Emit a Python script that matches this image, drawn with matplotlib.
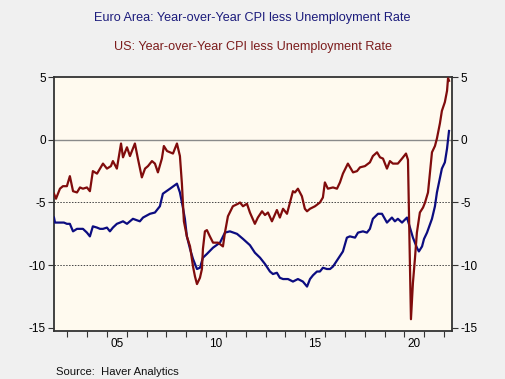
import matplotlib
matplotlib.use("Agg")
import matplotlib.pyplot as plt
from matplotlib.ticker import FixedLocator, NullFormatter, FixedFormatter

plt.rcParams["font.family"] = ["Liberation Sans", "DejaVu Sans"]

# US: year-over-year CPI less unemployment rate
us_dates = [
    2002.33, 2002.43, 2002.63, 2002.78, 2002.98, 2003.13, 2003.29, 2003.49,
    2003.64, 2003.79, 2003.99, 2004.14, 2004.29, 2004.50, 2004.65, 2004.80,
    2005.00, 2005.20, 2005.30, 2005.50, 2005.71, 2005.81, 2006.01, 2006.16,
    2006.41, 2006.56, 2006.76, 2006.92, 2007.07, 2007.27, 2007.42, 2007.57,
    2007.77, 2007.87, 2008.03, 2008.18, 2008.33, 2008.53, 2008.68, 2008.78,
    2008.88, 2008.93, 2009.03, 2009.19, 2009.34, 2009.44, 2009.54, 2009.69,
    2009.79, 2009.84, 2009.94, 2010.04, 2010.19, 2010.35, 2010.60, 2010.85,
    2010.95, 2011.10, 2011.35, 2011.61, 2011.71, 2011.86, 2012.06, 2012.21,
    2012.46, 2012.61, 2012.82, 2012.97, 2013.12, 2013.32, 2013.57, 2013.72,
    2013.88, 2014.08, 2014.23, 2014.38, 2014.48, 2014.63, 2014.83, 2014.98,
    2015.09, 2015.24, 2015.49, 2015.74, 2015.89, 2015.99, 2016.14, 2016.40,
    2016.60, 2016.75, 2016.90, 2017.15, 2017.41, 2017.61, 2017.76, 2018.01,
    2018.26, 2018.41, 2018.62, 2018.77, 2018.92, 2019.12, 2019.27, 2019.42,
    2019.67, 2019.88, 2020.08, 2020.18, 2020.33, 2020.43, 2020.53, 2020.63,
    2020.78, 2020.94, 2021.04, 2021.19, 2021.39, 2021.54, 2021.64, 2021.79,
    2021.89, 2022.04, 2022.15, 2022.20, 2022.25,
]
us_values = [
    -4.3, -4.7, -3.9, -3.7, -3.7, -2.9, -4.1, -4.2,
    -3.8, -3.9, -3.8, -4.1, -2.5, -2.7, -2.3, -1.9,
    -2.3, -2.1, -1.7, -2.3, -0.3, -1.4, -0.6, -1.3,
    -0.3, -1.5, -3.0, -2.3, -2.1, -1.7, -1.9, -2.6,
    -1.5, -0.5, -0.9, -1.0, -1.1, -0.3, -1.3, -3.5,
    -6.5, -6.9, -7.7, -8.5, -10.1, -10.9, -11.5, -11.0,
    -10.3, -8.7, -7.3, -7.2, -7.7, -8.2, -8.2, -8.5,
    -7.4, -6.1, -5.3, -5.1, -5.0, -5.3, -5.1, -5.8,
    -6.7, -6.2, -5.7, -6.0, -5.8, -6.5, -5.6, -6.2,
    -5.5, -5.9, -5.0, -4.1, -4.2, -3.9, -4.5, -5.5,
    -5.7, -5.5, -5.3, -5.0, -4.6, -3.4, -3.9, -3.8,
    -3.9, -3.4, -2.7, -1.9, -2.6, -2.5, -2.2, -2.1,
    -1.8, -1.3, -1.0, -1.4, -1.5, -2.3, -1.7, -1.9,
    -1.9, -1.5, -1.1, -1.6, -14.3, -11.4, -9.5, -7.4,
    -5.8, -5.4, -5.0, -4.2, -1.0, -0.5, 0.1, 1.3,
    2.3, 3.0, 3.9, 4.9, 4.7,
]

# Euro Area: year-over-year CPI less unemployment rate
ea_dates = [
    2002.33, 2002.38, 2002.63, 2002.83, 2002.98, 2003.13, 2003.29, 2003.49,
    2003.64, 2003.79, 2003.99, 2004.14, 2004.29, 2004.50, 2004.65, 2004.80,
    2005.00, 2005.15, 2005.30, 2005.50, 2005.66, 2005.81, 2006.01, 2006.31,
    2006.66, 2006.82, 2007.17, 2007.42, 2007.57, 2007.67, 2007.82, 2008.18,
    2008.53, 2008.68, 2008.83, 2008.93, 2009.03, 2009.19, 2009.34, 2009.54,
    2009.69, 2009.84, 2010.04, 2010.35, 2010.70, 2010.95, 2011.20, 2011.56,
    2011.86, 2012.21, 2012.46, 2012.72, 2012.97, 2013.22, 2013.37, 2013.57,
    2013.72, 2013.88, 2014.13, 2014.38, 2014.63, 2014.88, 2015.09, 2015.24,
    2015.39, 2015.59, 2015.74, 2015.89, 2016.09, 2016.25, 2016.40, 2016.65,
    2016.90, 2017.10, 2017.25, 2017.51, 2017.66, 2017.91, 2018.11, 2018.26,
    2018.41, 2018.67, 2018.87, 2019.12, 2019.37, 2019.52, 2019.67, 2019.88,
    2020.13, 2020.28, 2020.43, 2020.63, 2020.73, 2020.89, 2020.99, 2021.14,
    2021.39, 2021.54, 2021.64, 2021.89, 2022.04, 2022.15, 2022.25,
]
ea_values = [
    -6.2, -6.6, -6.6, -6.6, -6.7, -6.7, -7.3, -7.1,
    -7.1, -7.1, -7.4, -7.7, -6.9, -7.0, -7.1, -7.1,
    -7.0, -7.3, -7.0, -6.7, -6.6, -6.5, -6.7, -6.3,
    -6.5, -6.2, -5.9, -5.8, -5.5, -5.3, -4.3, -3.9,
    -3.5, -4.2, -5.4, -6.3, -7.7, -8.7, -9.5, -10.3,
    -10.2, -9.4, -9.1, -8.6, -8.2, -7.4, -7.3, -7.5,
    -7.9, -8.4, -9.0, -9.4, -9.9, -10.5, -10.7, -10.6,
    -11.0, -11.1, -11.1, -11.3, -11.1, -11.3, -11.7, -11.1,
    -10.8, -10.5, -10.5, -10.2, -10.3, -10.3, -10.1, -9.5,
    -8.9, -7.8, -7.7, -7.8, -7.4, -7.3, -7.4, -7.1,
    -6.3, -5.9, -5.9, -6.6, -6.2, -6.5, -6.3, -6.6,
    -6.2, -7.0, -7.8, -8.6, -8.9, -8.5, -7.9, -7.4,
    -6.3, -5.3, -4.2, -2.3, -1.8, -0.7, 0.7,
]

year_ticks = list(range(2003, 2023))
label_years = [2005.5, 2010.5, 2015.5, 2020.5]
label_text = ["05", "10", "15", "20"]
y_ticks = [5, 0, -5, -10, -15]

EA_COLOR = "#0c0c80"
US_COLOR = "#800c0c"

fig = plt.figure(figsize=(5.05, 3.79), dpi=100, facecolor="#f0f0f0")
ax = fig.add_axes([54 / 505, 1 - 331 / 379, 398 / 505, 254 / 379])
ax.set_facecolor("#fffaef")

ax.axhline(0, color="#8a8a8a", lw=1.0, zorder=1)
for level in (-5, -10):
    ax.axhline(level, color="#444444", lw=0.7, ls=(0, (1.5, 1.5)), zorder=1)

ax.plot(ea_dates, ea_values, color=EA_COLOR, lw=1.6, zorder=3)
ax.plot(us_dates, us_values, color=US_COLOR, lw=1.6, zorder=3)

ax.set_xlim(2002.33, 2022.4)
ax.set_ylim(-15.24, 5.0)

ax.xaxis.set_major_locator(FixedLocator(year_ticks))
ax.xaxis.set_major_formatter(NullFormatter())
ax.xaxis.set_minor_locator(FixedLocator(label_years))
ax.xaxis.set_minor_formatter(FixedFormatter(label_text))
ax.tick_params(axis="x", which="major", length=4, width=0.8, color="#333333",
               direction="out")
ax.tick_params(axis="x", which="minor", length=0, pad=5, labelsize=8.5)

ax.set_yticks(y_ticks)
ax.set_yticklabels([str(v) for v in y_ticks])
ax.tick_params(axis="y", which="major", length=4, width=0.8, color="#333333",
               direction="out", left=True, right=True, labelleft=True,
               labelright=True, labelsize=8.5, pad=2)

for side in ("left", "right", "top", "bottom"):
    ax.spines[side].set_color("#333333")
    ax.spines[side].set_linewidth(1.3)

fig.text(0.5, 1 - 18 / 379, "Euro Area: Year-over-Year CPI less Unemployment Rate",
         ha="center", va="center", color="#1c1c7c", fontsize=9.1)
fig.text(0.5, 1 - 47 / 379, "US: Year-over-Year CPI less Unemployment Rate",
         ha="center", va="center", color="#7c1c1c", fontsize=9.1)
fig.text(56 / 505, 1 - 372 / 379, "Source:  Haver Analytics",
         ha="left", va="center", color="#111111", fontsize=8.1)

fig.savefig("out.png", dpi=100, facecolor=fig.get_facecolor())
